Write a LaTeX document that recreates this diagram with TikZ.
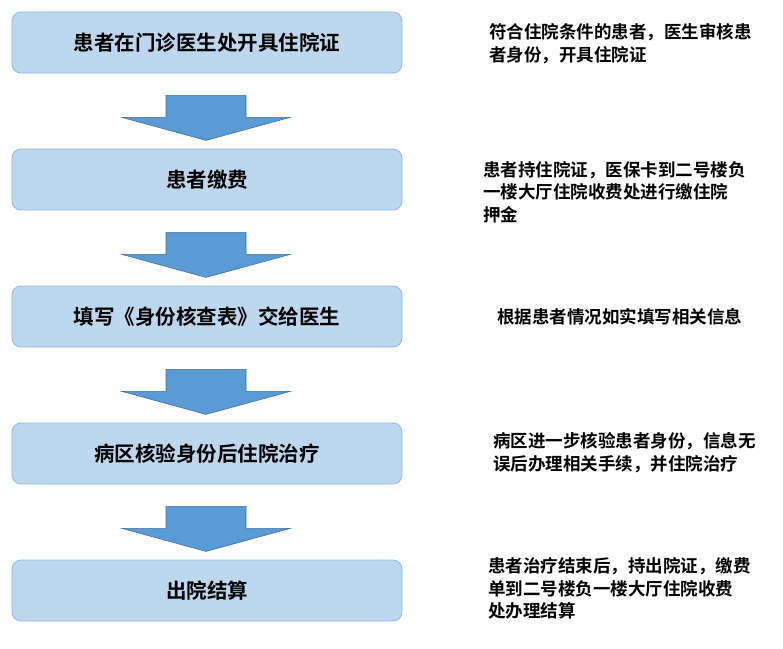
\documentclass[tikz,border=0pt]{standalone}
\usepackage{fontspec}
\setmainfont{Noto Sans CJK SC}[BoldFont={Noto Sans CJK SC Bold}]
\usepackage{tikz}
\usetikzlibrary{positioning,calc}
\definecolor{boxfill}{HTML}{BDD7EE}
\definecolor{boxline}{HTML}{8FB8E0}
\definecolor{arrfill}{HTML}{5B9BD5}
\definecolor{arrline}{HTML}{41719C}

\begin{document}
\begin{tikzpicture}[node distance=75.2pt,
  stepbox/.style={draw=boxline, fill=boxfill, rounded corners=9pt, line width=0.8pt,
    minimum width=390pt, minimum height=61pt, inner sep=0pt,
    font=\fontsize{20.5pt}{24pt}\selectfont\bfseries},
  note/.style={anchor=west, align=left, inner sep=0pt,
    font=\fontsize{17.5pt}{22.7pt}\selectfont\bfseries},
  blockarrow/.style={draw=arrline, fill=arrfill, line width=0.6pt}]
\useasboundingbox (0,0) rectangle (783pt,-648pt);
\node[stepbox] (s1) at (207pt,-42.5pt) {患者在门诊医生处开具住院证};
\node[stepbox, below=of s1] (s2) {患者缴费};
\node[stepbox, below=of s2] (s3) {填写《身份核查表》交给医生};
\node[stepbox, below=of s3] (s4) {病区核验身份后住院治疗};
\node[stepbox, below=of s4] (s5) {出院结算};
% block arrows between the steps
\foreach \a in {s1,s2,s3,s4}
  \draw[blockarrow] ($(\a.south)+(-41pt,-22pt)$) -- ($(\a.south)+(39pt,-22pt)$)
    -- ($(\a.south)+(39pt,-44pt)$) -- ($(\a.south)+(83pt,-44pt)$)
    -- ($(\a.south)+(-1pt,-67pt)$) -- ($(\a.south)+(-85pt,-44pt)$)
    -- ($(\a.south)+(-41pt,-44pt)$) -- cycle;
% notes on the right
\node[note] (n1) at (489pt,-43.5pt) {符合住院条件的患者，医生审核患\\者身份，开具住院证};
\node[note] (n2) at (483pt,-192pt) {患者持住院证，医保卡到二号楼负\\一楼大厅住院收费处进行缴住院\\押金};
\node[note] (n3) at (497pt,-317pt) {根据患者情况如实填写相关信息};
\node[note] (n4) at (493pt,-452.5pt) {病区进一步核验患者身份，信息无\\误后办理相关手续，并住院治疗};
\node[note] (n5) at (488pt,-588.5pt) {患者治疗结束后，持出院证，缴费\\单到二号楼负一楼大厅住院收费\\处办理结算};
\end{tikzpicture}
\end{document}
